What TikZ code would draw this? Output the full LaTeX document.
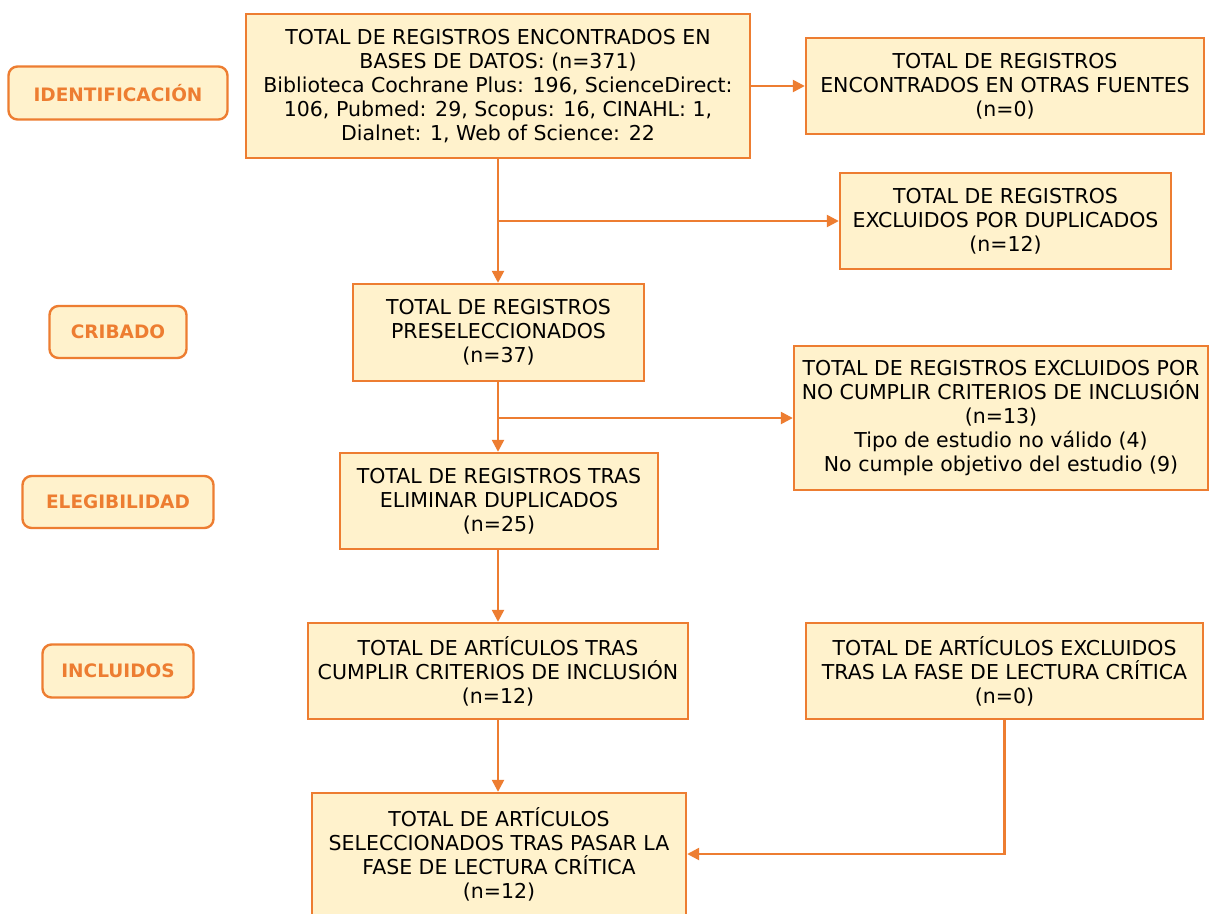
\documentclass[tikz,border=0pt]{standalone}
\usepackage{fontspec}
\setmainfont{DejaVu Sans}
\usetikzlibrary{arrows.meta}
\definecolor{orng}{HTML}{ED7D31}
\definecolor{cream}{HTML}{FFF2CC}
\begin{document}
\begin{tikzpicture}[x=1pt,y=-1pt,
 box/.style={draw=orng, line width=2.4pt, fill=cream, align=center, inner sep=0pt, font=\fontsize{20.5}{24}\selectfont},
 stage/.style={draw=orng, line width=2.4pt, fill=cream, rounded corners=9pt, text=orng, inner sep=0pt, font=\fontsize{18.5}{20}\selectfont\bfseries},
 arr/.style={draw=orng, line width=2.4pt, -{Triangle[length=12pt,width=12pt]}}]
\useasboundingbox (0,0) rectangle (1209,913);
\fill[white] (0,0) rectangle (1209,913);
\clip (0,0) rectangle (1209,913);
% stage labels
\node[stage, minimum width=219pt, minimum height=53pt] (s1) at (118,93) {IDENTIFICACIÓN};
\node[stage, minimum width=137pt, minimum height=52pt] (s2) at (118,332) {CRIBADO};
\node[stage, minimum width=191pt, minimum height=52pt] (s3) at (118,502) {ELEGIBILIDAD};
\node[stage, minimum width=151pt, minimum height=53pt] (s4) at (118,671) {INCLUIDOS};
% boxes
\node[box, minimum width=504pt, minimum height=144pt] (A) at (498,86) {TOTAL DE REGISTROS ENCONTRADOS EN\\BASES DE DATOS: (n=371)\\Biblioteca Cochrane Plus: 196, ScienceDirect:\\106, Pubmed: 29, Scopus: 16, CINAHL: 1,\\Dialnet: 1, Web of Science: 22};
\node[box, minimum width=398pt, minimum height=96pt] (B) at (1005,86) {TOTAL DE REGISTROS\\ENCONTRADOS EN OTRAS FUENTES\\(n=0)};
\node[box, minimum width=331pt, minimum height=96pt] (C) at (1005.5,221) {TOTAL DE REGISTROS\\EXCLUIDOS POR DUPLICADOS\\(n=12)};
\node[box, minimum width=291pt, minimum height=97pt] (D) at (498.5,332.5) {TOTAL DE REGISTROS\\PRESELECCIONADOS\\(n=37)};
\node[box, minimum width=414pt, minimum height=144pt] (E) at (1001,418) {TOTAL DE REGISTROS EXCLUIDOS POR\\NO CUMPLIR CRITERIOS DE INCLUSIÓN\\(n=13)\\Tipo de estudio no válido (4)\\No cumple objetivo del estudio (9)};
\node[box, minimum width=318pt, minimum height=96pt] (F) at (499,501) {TOTAL DE REGISTROS TRAS\\ELIMINAR DUPLICADOS\\(n=25)};
\node[box, minimum width=380pt, minimum height=96pt] (G) at (498,671) {TOTAL DE ARTÍCULOS TRAS\\CUMPLIR CRITERIOS DE INCLUSIÓN\\(n=12)};
\node[box, minimum width=397pt, minimum height=96pt] (H) at (1004.5,671) {TOTAL DE ARTÍCULOS EXCLUIDOS\\TRAS LA FASE DE LECTURA CRÍTICA\\(n=0)};
\node[box, minimum width=374pt, minimum height=122pt] (I) at (499,854) {TOTAL DE ARTÍCULOS\\SELECCIONADOS TRAS PASAR LA\\FASE DE LECTURA CRÍTICA\\(n=12)};
% connectors
\draw[arr] (A.east) -- (B.west);
\draw[arr] (A.south) -- (A.south |- D.north);
\draw[arr] (A.south |- C.west) -- (C.west);
\draw[arr] (A.south |- D.south) -- (A.south |- F.north);
\draw[arr] (A.south |- E.west) -- (E.west);
\draw[arr] (A.south |- F.south) -- (A.south |- G.north);
\draw[arr] (A.south |- G.south) -- (A.south |- I.north);
\draw[arr] (H.south) |- (I.east);
\end{tikzpicture}
\end{document}
